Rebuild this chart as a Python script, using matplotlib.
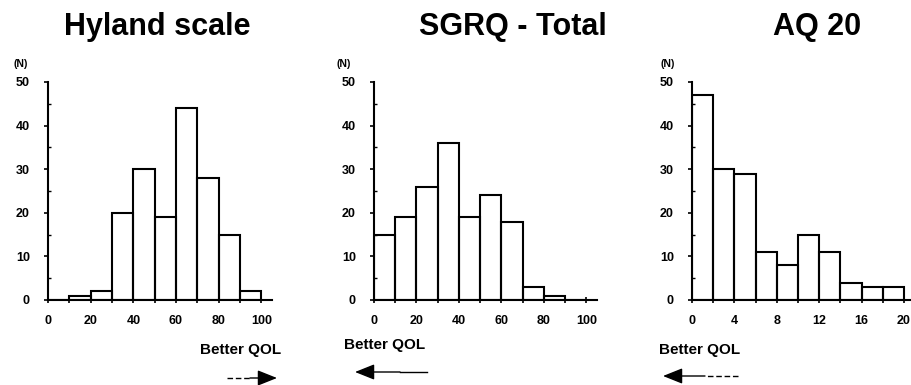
import numpy as np
import matplotlib
matplotlib.use("Agg")
import matplotlib.pyplot as plt
from matplotlib.ticker import MultipleLocator

plt.rcParams['font.family'] = ['Liberation Sans', 'DejaVu Sans']
plt.rcParams['font.weight'] = 'bold'

# --- data ---
hyland_edges = [0, 10, 20, 30, 40, 50, 60, 70, 80, 90, 100]
hyland_counts = [0, 1, 2, 20, 30, 19, 44, 28, 15, 2]

sgrq_edges = [0, 10, 20, 30, 40, 50, 60, 70, 80, 90, 100]
sgrq_counts = [15, 19, 26, 36, 19, 24, 18, 3, 1, 0]

aq_edges = [0, 2, 4, 6, 8, 10, 12, 14, 16, 18, 20]
aq_counts = [47, 30, 29, 11, 8, 15, 11, 4, 3, 3]

titles = ["Hyland scale", "SGRQ - Total", "AQ 20"]
xtick_labels = [[0, 20, 40, 60, 80, 100], [0, 20, 40, 60, 80, 100], [0, 4, 8, 12, 16, 20]]
ytick_labels = [0, 10, 20, 30, 40, 50]

W, H = 912, 385
fig = plt.figure(figsize=(W / 100, H / 100), dpi=100)

def fx(px):
    return px / W

def fy(py):
    return 1 - py / H

# axes boxes in pixels: left, right, top(50), bottom(0)
boxes = [(48, 272, 82, 300), (374, 597, 82, 300), (692, 912, 82, 300)]
xmax = [105, 105, 20.75]
minor_x = [10, 10, 2]
panels = [(hyland_edges, hyland_counts), (sgrq_edges, sgrq_counts), (aq_edges, aq_counts)]

for i, (edges, counts) in enumerate(panels):
    l, r, t, b = boxes[i]
    ax = fig.add_axes([fx(l), fy(b), fx(r - l), (b - t) / H])
    edges = np.array(edges)
    widths = np.diff(edges)
    ax.bar(edges[:-1], counts, width=widths, align='edge', fill=False,
           edgecolor='black', linewidth=1.5)
    ax.set_xlim(0, xmax[i])
    ax.set_ylim(0, 50)
    ax.spines['top'].set_visible(False)
    ax.spines['right'].set_visible(False)
    for s in ['left', 'bottom']:
        ax.spines[s].set_linewidth(1.5)
    ax.set_xticks(xtick_labels[i])
    ax.set_xticklabels([str(v) for v in xtick_labels[i]])
    ax.xaxis.set_minor_locator(MultipleLocator(minor_x[i]))
    ax.set_yticks(ytick_labels)
    ax.yaxis.set_minor_locator(MultipleLocator(5))
    ax.tick_params(axis='x', which='both', direction='inout', length=5, width=1.2,
                   pad=8, labelsize=9)
    ax.tick_params(axis='y', which='major', direction='out', length=3, width=1.2,
                   pad=10, labelsize=9)
    ax.tick_params(axis='y', which='minor', direction='in', length=2, width=1)
    ax.patch.set_alpha(0)

# titles
fig.text(fx(157), fy(27), titles[0], ha='center', va='center', fontsize=22, fontweight='bold')
fig.text(fx(513), fy(27), titles[1], ha='center', va='center', fontsize=22, fontweight='bold')
fig.text(fx(817), fy(27), titles[2], ha='center', va='center', fontsize=22, fontweight='bold')

# (N) labels
for x in [21, 344, 668]:
    fig.text(fx(x), fy(64), "(N)", ha='center', va='center', fontsize=7.5)

# Better QOL labels
fig.text(fx(241), fy(350), "Better QOL", ha='center', va='center', fontsize=11, fontweight='bold')
fig.text(fx(385), fy(345), "Better QOL", ha='center', va='center', fontsize=11, fontweight='bold')
fig.text(fx(700), fy(350), "Better QOL", ha='center', va='center', fontsize=11, fontweight='bold')

# arrows: dashed/solid shaft then filled head
def arrow(x_tail, x_mid, x_head, y, dashed=True):
    fig.add_artist(plt.Line2D([fx(x_tail), fx(x_mid)], [fy(y), fy(y)],
                              color='black', lw=1, ls=(0, (4, 2)) if dashed else '-'))
    fig.add_artist(matplotlib.patches.FancyArrowPatch(
        (fx(x_mid), fy(y)), (fx(x_head), fy(y)), transform=fig.transFigure,
        arrowstyle='-|>,head_length=1.0,head_width=0.4', mutation_scale=12,
        shrinkA=0, shrinkB=0, color='black', lw=1))

arrow(227, 250, 277, 378)
arrow(427, 400, 355, 372, dashed=False)
arrow(738, 705, 663, 376)

fig.savefig("out.png", dpi=100)
